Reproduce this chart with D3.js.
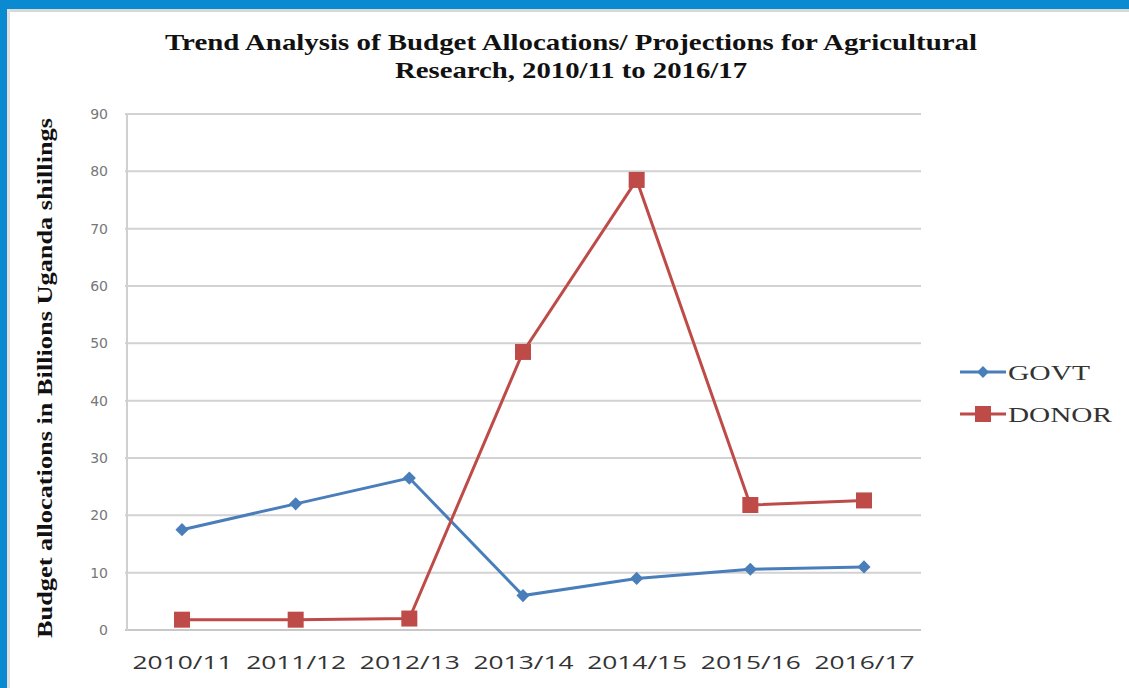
<!DOCTYPE html>
<html><head><meta charset="utf-8">
<script src="https://d3js.org/d3.v7.min.js"></script>
<style>body{margin:0;background:#fff;overflow:hidden}</style>
</head><body>
<svg id="c" width="1129" height="688"></svg>
<script>
const categories = ["2010/11","2011/12","2012/13","2013/14","2014/15","2015/16","2016/17"];
const govt = [17.5, 22, 26.5, 6, 9, 10.6, 11];
const donor = [1.8, 1.8, 2.0, 48.5, 78.5, 21.8, 22.6];
const yTicks = [0,10,20,30,40,50,60,70,80,90];
const seriesNames = ["GOVT","DONOR"];
const titleLines = ["Trend Analysis of Budget Allocations/ Projections for Agricultural","Research, 2010/11 to 2016/17"];
const yLabel = "Budget allocations in Billions Uganda shillings";

const svg = d3.select("#c");
const W = 1129, H = 688;
svg.append("rect").attr("width",W).attr("height",H).attr("fill","#fff");
// frame
svg.append("rect").attr("x",0).attr("y",0).attr("width",W).attr("height",9).attr("fill","#0a8ad0");
svg.append("rect").attr("x",0).attr("y",0).attr("width",7).attr("height",H).attr("fill","#0a8ad0");
svg.append("rect").attr("x",7).attr("y",9).attr("width",W-7).attr("height",3).attr("fill","#d8d8d8");
svg.append("rect").attr("x",7).attr("y",9).attr("width",3).attr("height",H).attr("fill","#e0e0e0");

const x = d3.scalePoint().domain(categories).range([182, 864]);
const y = d3.scaleLinear().domain([0,90]).range([630, 114]);
const plotL = 125, plotR = 921;

// gridlines
svg.append("g").selectAll("line").data(yTicks).join("line")
  .attr("x1",plotL).attr("x2",plotR)
  .attr("y1",d=>y(d)).attr("y2",d=>y(d))
  .attr("stroke",d=>d===0?"#c8c8c8":"#d2d2d2").attr("stroke-width",2);
svg.append("line").attr("x1",plotL+2).attr("x2",plotL+2).attr("y1",y(90)).attr("y2",y(0))
  .attr("stroke","#d0d0d0").attr("stroke-width",2);

// y axis labels
const yAxis = d3.axisLeft(y).tickValues(yTicks).tickSize(0).tickPadding(17);
const ga = svg.append("g").attr("transform",`translate(${plotL},0)`).call(yAxis);
ga.select(".domain").remove();
ga.selectAll("text").attr("font-family","'DejaVu Sans', sans-serif").attr("font-size",14).attr("fill","#777");

// x axis labels
const xAxis = d3.axisBottom(x).tickSize(0).tickPadding(26);
const gx = svg.append("g").attr("transform",`translate(0,${y(0)})`).call(xAxis);
gx.select(".domain").remove();
gx.selectAll("text").attr("font-family","'Open Sans', 'DejaVu Sans', sans-serif").attr("font-size",18)
  .attr("fill","#333").attr("textLength",100).attr("lengthAdjust","spacingAndGlyphs");

// title
svg.append("g").selectAll("text").data(titleLines).join("text")
  .attr("x",571).attr("y",(d,i)=>50+i*28).attr("text-anchor","middle")
  .attr("font-family","'Liberation Serif', serif").attr("font-weight","bold").attr("font-size",24)
  .attr("fill","#111")
  .attr("textLength",(d,i)=>i===0?812:352).attr("lengthAdjust","spacingAndGlyphs")
  .text(d=>d);

// y label
svg.append("text").attr("transform","translate(52,378) rotate(-90)").attr("text-anchor","middle")
  .attr("font-family","'Liberation Serif', serif").attr("font-weight","bold").attr("font-size",21)
  .attr("fill","#111").attr("textLength",520).attr("lengthAdjust","spacingAndGlyphs").text(yLabel);

const colors = {GOVT:"#4a7ebb", DONOR:"#be4b48"};
const line = d3.line().x((d,i)=>x(categories[i])).y(d=>y(d));

svg.append("path").datum(govt).attr("d",line).attr("fill","none").attr("stroke",colors.GOVT).attr("stroke-width",3);
svg.append("g").selectAll("path").data(govt).join("path")
  .attr("d",d3.symbol().type(d3.symbolDiamond2).size(110))
  .attr("transform",(d,i)=>`translate(${x(categories[i])},${y(d)})`).attr("fill",colors.GOVT);

svg.append("path").datum(donor).attr("d",line).attr("fill","none").attr("stroke",colors.DONOR).attr("stroke-width",3);
svg.append("g").selectAll("rect").data(donor).join("rect")
  .attr("x",(d,i)=>x(categories[i])-8).attr("y",d=>y(d)-8).attr("width",16).attr("height",16)
  .attr("fill",colors.DONOR);

// legend
const lg = svg.append("g");
seriesNames.forEach((s,i)=>{
  const yy = 372 + i*42;
  lg.append("line").attr("x1",960).attr("x2",1006).attr("y1",yy).attr("y2",yy).attr("stroke",colors[s]).attr("stroke-width",3);
  if(s==="GOVT"){
    lg.append("path").attr("d",d3.symbol().type(d3.symbolDiamond2).size(90)).attr("transform",`translate(983,${yy})`).attr("fill",colors[s]);
  } else {
    lg.append("rect").attr("x",975).attr("y",yy-8).attr("width",16).attr("height",16).attr("fill",colors[s]);
  }
  lg.append("text").attr("x",1008).attr("y",yy+8).attr("font-family","'Liberation Serif', serif")
    .attr("font-size",22).attr("fill","#333")
    .attr("textLength",s==="GOVT"?82:104).attr("lengthAdjust","spacingAndGlyphs").text(s);
});
</script>
</body></html>
